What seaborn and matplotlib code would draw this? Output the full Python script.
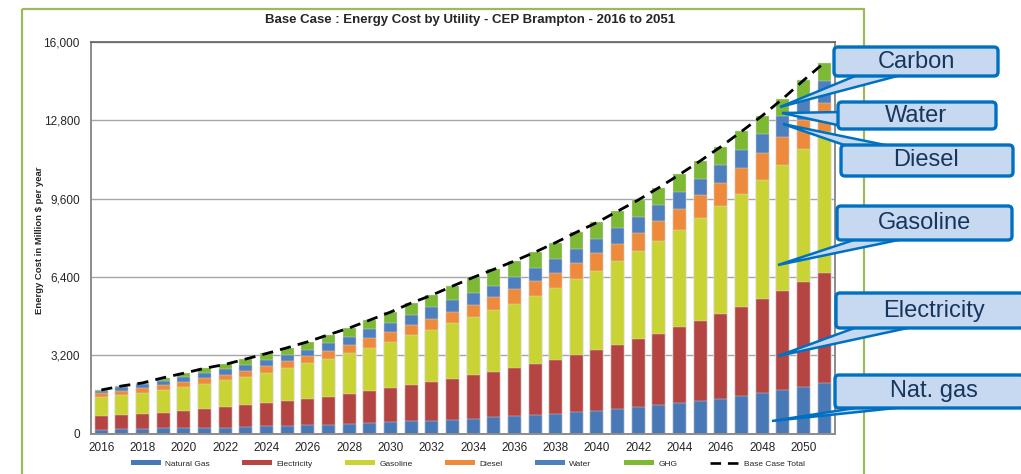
import numpy as np
import pandas as pd
import matplotlib
matplotlib.use("Agg")
import matplotlib.pyplot as plt
import seaborn as sns
from matplotlib.patches import Patch, Polygon, FancyBboxPatch, Rectangle
from matplotlib.lines import Line2D

# values (million $ per year)
years = [str(y) for y in range(2016, 2052)]
nat_gas = [170, 195, 195, 225, 225, 250, 250, 280, 305, 330, 360, 370, 390, 430, 470, 510, 520, 565,
           605, 675, 715, 755, 795, 875, 930, 1000, 1080, 1165, 1245, 1340, 1430, 1530, 1650, 1775, 1895, 2060]
electricity = [560, 585, 625, 635, 720, 775, 830, 885, 950, 995, 1075, 1140, 1250, 1330, 1400, 1495, 1605, 1685,
               1795, 1860, 1985, 2105, 2215, 2350, 2490, 2635, 2785, 2920, 3100, 3265, 3455, 3655, 3860, 4065, 4285, 4510]
gasoline = [775, 805, 855, 940, 980, 1020, 1115, 1165, 1235, 1360, 1445, 1540, 1660, 1755, 1890, 2030, 2110, 2260,
            2365, 2505, 2610, 2760, 2925, 3090, 3225, 3415, 3590, 3780, 3960, 4190, 4405, 4625, 4870, 5155, 5440, 5740]
diesel = [150, 175, 200, 195, 205, 220, 215, 245, 275, 275, 285, 315, 325, 385, 395, 395, 450, 460,
          490, 530, 600, 600, 625, 640, 720, 720, 765, 815, 855, 940, 965, 1045, 1085, 1125, 1185, 1210]
water = [105, 140, 140, 175, 180, 205, 220, 245, 255, 270, 270, 340, 340, 365, 380, 435, 475, 475,
         475, 475, 490, 545, 570, 595, 585, 625, 635, 665, 695, 675, 720, 750, 790, 845, 885, 880]
ghg = [30, 55, 65, 120, 165, 205, 205, 235, 260, 285, 325, 340, 355, 380, 435, 475, 500, 585,
       655, 670, 655, 655, 680, 680, 680, 695, 695, 710, 735, 735, 750, 745, 735, 720, 745, 750]

series = ["Natural Gas", "Electricity", "Gasoline", "Diesel", "Water", "GHG"]
colors = ["#4878B5", "#B54542", "#C9D334", "#EE8A3C", "#4E80BF", "#7DB935"]

df = pd.DataFrame({"year": years, "Natural Gas": nat_gas, "Electricity": electricity,
                   "Gasoline": gasoline, "Diesel": diesel, "Water": water, "GHG": ghg})
cum = df[series].cumsum(axis=1)
cum["year"] = df["year"]
total = cum["GHG"].values

sns.set_style("white")
plt.rcParams["font.family"] = ["Liberation Sans", "DejaVu Sans"]

W, H = 1021, 474
fig = plt.figure(figsize=(W / 100, H / 100), dpi=100)

# green outer frame and callouts live on a pixel-space overlay
bg = fig.add_axes([0, 0, 1, 1], zorder=0)
bg.set_xlim(0, W)
bg.set_ylim(H, 0)
bg.axis("off")
bg.add_patch(Rectangle((22, 9), 842, 480, fill=False, edgecolor="#9BBB59", lw=1.6))

ax = fig.add_axes([91 / W, 1 - 433.8 / H, (834.5 - 91) / W, (433.8 - 42) / H], zorder=1)
ax.patch.set_alpha(0)

# stacked bars: draw cumulative totals from the top down
for s, c in zip(series[::-1], colors[::-1]):
    sns.barplot(data=cum, x="year", y=s, color=c, width=0.63, saturation=1,
                edgecolor="#dddddd", linewidth=0.3, ax=ax, zorder=2)

x = np.arange(len(years))
ax.plot(x, total, color="black", lw=2.0, ls=(0, (4, 2.6)), zorder=4)

ax.set_ylim(0, 16000)
ax.set_xlim(-0.49, 35.43)
ax.set_yticks(np.arange(0, 16001, 3200))
ax.set_yticklabels([f"{int(v):,}" for v in np.arange(0, 16001, 3200)], fontsize=8.5)
ax.yaxis.grid(True, color="#A6A6A6", lw=1)
ax.set_axisbelow(True)
ax.set_xticks(x[::2])
ax.set_xticklabels(years[::2], fontsize=8.5)
ax.set_xticks(np.arange(-0.5, len(years)), minor=True)
ax.tick_params(axis="x", which="major", length=0, pad=6)
ax.tick_params(axis="x", which="minor", length=4, color="#808080", width=1)
ax.tick_params(axis="y", length=5, color="#808080", width=1, pad=3)
ax.set_xlabel("")
ax.set_ylabel("")
for side in ["left", "bottom", "right"]:
    ax.spines[side].set_color("#8C8C8C")
    ax.spines[side].set_linewidth(1.4)
ax.spines["top"].set_color("#606060")
ax.spines["top"].set_linewidth(1.2)

fig.text(470 / W, 1 - 20 / H, "Base Case : Energy Cost by Utility - CEP Brampton - 2016 to 2051",
         ha="center", va="center", fontsize=9.5, fontweight="bold")
fig.text(40 / W, 1 - 240 / H, "Energy Cost in Million \\$ per year", rotation=90,
         ha="center", va="center", fontsize=6.8, fontweight="bold")

handles = [Patch(facecolor=c, edgecolor="none") for c in colors]
handles.append(Line2D([0], [0], color="black", lw=1.9, ls=(0, (4, 2.6))))
fig.legend(handles, series + ["Base Case Total"], loc="center", ncol=7,
           bbox_to_anchor=(468 / W, 1 - 464 / H), frameon=False, fontsize=6,
           handlelength=3.6, handleheight=0.55, handletextpad=0.5, columnspacing=3.9)

# callout labels on top of everything
ov = fig.add_axes([0, 0, 1, 1], zorder=5)
ov.set_xlim(0, W)
ov.set_ylim(H, 0)
ov.axis("off")
callouts = [
    ("Carbon", (834, 47, 998, 76), 916, [(860, 74), (905, 74), (780, 107)]),
    ("Water", (838, 102, 996, 129), 916, [(842, 112), (842, 126), (782, 113)]),
    ("Diesel", (841, 145, 1013, 176), 926, [(850, 147), (895, 147), (783, 124)]),
    ("Gasoline", (837, 206, 1012, 240), 924, [(860, 238), (908, 238), (778, 265)]),
    ("Electricity", (836, 293, 1024, 328), 934, [(860, 326), (917, 326), (778, 356)]),
    ("Nat. gas", (835, 375, 1024, 408), 934, [(868, 406), (915, 406), (772, 421)]),
]
for label, (x0, y0, x1, y1), tx, tri in callouts:
    ov.add_patch(Polygon(tri, closed=True, facecolor="#C6D9F1", edgecolor="#0070C0", lw=1.8))
    ov.add_patch(FancyBboxPatch((x0, y0), x1 - x0, y1 - y0, boxstyle="round,pad=0,rounding_size=4",
                                facecolor="#C6D9F1", edgecolor="#0070C0", lw=2.4))
    ov.text(tx, (y0 + y1) / 2, label, ha="center", va="center",
            fontsize=17, color="#17365D")

fig.savefig("out.png", dpi=100)
